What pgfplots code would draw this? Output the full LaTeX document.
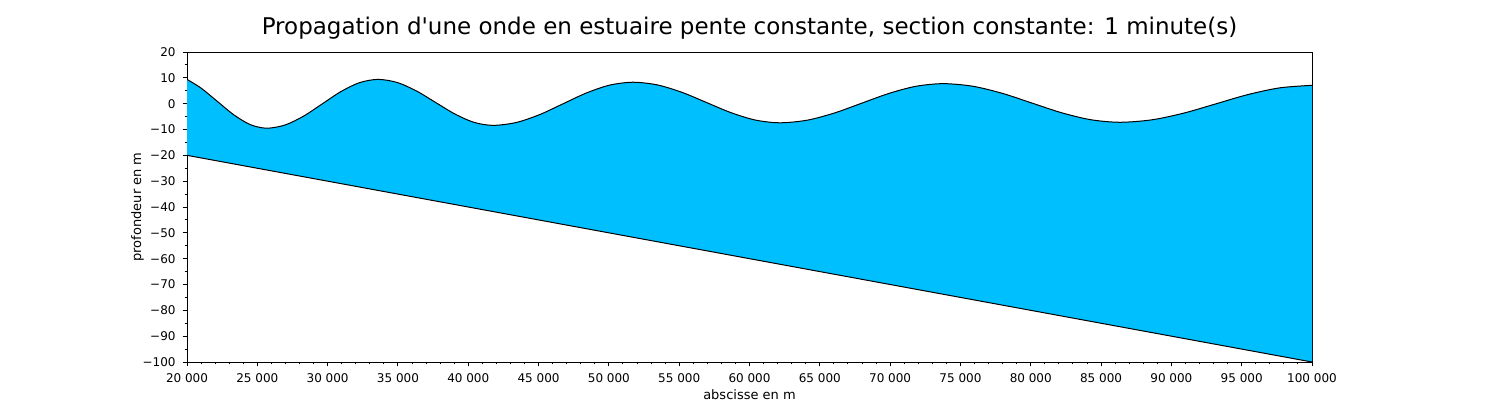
\documentclass[border=0pt]{standalone}
\usepackage{fontspec}
\setmainfont{DejaVu Sans}[Ligatures=TeXOff]
\usepackage{pgfplots}
\pgfplotsset{compat=1.18}
\usepackage{pgfplotstable}
\usepgfplotslibrary{fillbetween}
\definecolor{water}{RGB}{0,191,255}
\pgfplotstableread{
x y
20000 9.4
21000 6.03
22167 0.85
23333 -4.33
24500 -8.11
25667 -9.5
26986 -8.23
28305 -4.78
29625 -0.05
30944 4.68
32263 8.13
33582 9.4
34945 8.21
36308 4.95
37671 0.5
39034 -3.95
40397 -7.21
41760 -8.4
43419 -7.28
45079 -4.23
46738 -0.05
48397 4.13
50057 7.18
51716 8.3
53458 7.25
55200 4.38
56943 0.45
58685 -3.48
60427 -6.35
62169 -7.4
64105 -6.39
66040 -3.61
67976 0.18
69911 3.96
71847 6.74
73782 7.75
75876 6.75
77970 4.01
80065 0.28
82159 -3.46
84253 -6.20
86347 -7.2
88623 -6.24
90898 -3.63
93174 -0.05
95449 3.53
97725 6.14
100000 7.1
}\wavetab
\pgfplotstableread{
x y
20000 -20
100000 -100
}\bedtab
\begin{document}
\begin{tikzpicture}
\begin{axis}[
  at={(0,0)}, anchor=south west,
  scale only axis, width=562.5pt, height=155pt,
  xmin=20000, xmax=100000, ymin=-100, ymax=20,
  scaled x ticks=false, scaled y ticks=false,
  xtick={20000,25000,...,100000},
  xticklabels={20 000,25 000,30 000,35 000,40 000,45 000,50 000,55 000,60 000,65 000,70 000,75 000,80 000,85 000,90 000,95 000,100 000},
  ytick={-100,-90,...,20},
  yticklabels={−100,−90,−80,−70,−60,−50,−40,−30,−20,−10,0,10,20},
  minor x tick num=4, minor y tick num=1,
  tick align=outside, xtick pos=bottom, ytick pos=left,
  major tick length=2.2pt, minor tick length=1.2pt,
  every tick/.style={black, line width=0.5pt},
  axis line style={line width=0.5pt},
  tick label style={font=\fontsize{6}{7}\selectfont},
  label style={font=\fontsize{6.5}{8}\selectfont},
  xlabel={abscisse en m}, ylabel={profondeur en m},
  xlabel style={at={(ticklabel cs:0.5,-3.5pt)}},
  ylabel style={at={(ticklabel cs:0.5,-7.5pt)}},
  title={Propagation d'une onde en estuaire pente constante, section constante: 1 minute(s)},
  title style={font=\fontsize{11.5}{13}\selectfont, at={(axis description cs:0.5,1)}, anchor=center, yshift=6pt},
]
\addplot[draw=none, name path=top, smooth] table {\wavetab};
\addplot[draw=none, name path=bot] table {\bedtab};
\addplot[fill=water] fill between[of=top and bot];
\addplot[black, line width=0.5pt, smooth] table {\wavetab};
\addplot[black, line width=0.5pt] table {\bedtab};
\end{axis}
\pgfresetboundingbox
\useasboundingbox (-93.5pt,-26pt) rectangle (656.5pt,181pt);
\end{tikzpicture}
\end{document}
